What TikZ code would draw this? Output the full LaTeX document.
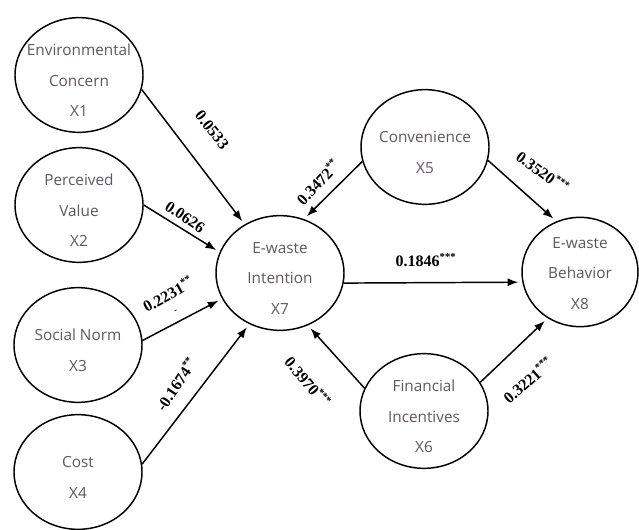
\documentclass[tikz,border=0pt]{standalone}
\usepackage{fontspec}
\setmainfont{Liberation Serif}
\newfontfamily\kreisfont{Open Sans}
\usepackage{tikz}
\definecolor{textgrau}{HTML}{5E5664}
\usetikzlibrary{arrows.meta}
\usetikzlibrary{shapes.geometric}

\begin{document}
\begin{tikzpicture}
    [
    x=0.75pt, y=-0.75pt, >={Latex[length=8pt,width=6pt]},
    %Stil der Konstrukte
    konstrukt/.style={ellipse, draw, line width=1.1pt, minimum width=96pt, minimum height=86pt, inner sep=0pt},
    kreistext/.style={align=center, text=textgrau, inner sep=0pt, yshift=-4pt,
        font=\kreisfont\fontsize{11.5}{23}\selectfont},
    %Pfeile und Koeffizienten
    pfad/.style={->, line width=1.1pt, shorten >=3pt},
    koeff/.style={font=\bfseries\fontsize{12}{14}\selectfont, inner sep=0pt}
    ]
    
    %Rahmen
    \useasboundingbox (0,0) rectangle (639,530);
    
    %Konstrukte links
    \node[konstrukt, label={[kreistext]center:{Environmental\\Concern\\X1}}] (x1) at (79,75) {};
    \node[konstrukt, label={[kreistext]center:{Perceived\\Value\\X2}}] (x2) at (79,205) {};
    \node[konstrukt, label={[kreistext]center:{Social Norm\\X3}}] (x3) at (78,345) {};
    \node[konstrukt, label={[kreistext]center:{Cost\\X4}}] (x4) at (78,472) {};
    
    %Konstrukte Mitte und rechts
    \node[konstrukt, label={[kreistext]center:{E-waste\\Intention\\X7}}] (x7) at (280,273) {};
    \node[konstrukt, label={[kreistext]center:{Convenience\\X5}}] (x5) at (425,147) {};
    \node[konstrukt, label={[kreistext]center:{Financial\\Incentives\\X6}}] (x6) at (424,411) {};
    \node[konstrukt, minimum width=87pt, minimum height=82pt,
        label={[kreistext, yshift=3pt]center:{E-waste\\Behavior\\X8}}] (x8) at (580,272) {};
    
    %Pfade
    \draw[pfad] (x1.-13) -- (x7.126);
    \draw[pfad] (x2.0) -- (x7.161);
    \draw[pfad] (x3.4) -- (x7.204);
    \draw[pfad] (x4.7) -- (x7.239);
    \draw[pfad] (x5.193) -- (x7.66);
    \draw[pfad] (x6.159) -- (x7.-62);
    \draw[pfad] (x5.-12) -- (x8.115);
    \draw[pfad] (x6.27) -- (x8.235);
    \draw[pfad] (x7.-9) -- (x8.190);
    
    %Koeffizienten
    \node[koeff, rotate=-52] (k17) at (212,130) {0.0533};
    \node[koeff, rotate=-34] (k27) at (185,217) {0.0626};
    \node[koeff, rotate=29] (k37) at (168,294) {0.2231\textsuperscript{**}};
    \node[koeff, rotate=29, font=\bfseries\fontsize{7}{8}\selectfont] (k37b) at (176,312) {-};
    \node[koeff, rotate=56] (k47) at (176,384) {-0.1674\textsuperscript{**}};
    \node[koeff, rotate=47] (k57) at (318,182) {0.3472\textsuperscript{**}};
    \node[koeff, rotate=-50] (k67) at (308,382) {0.3970\textsuperscript{***}};
    \node[koeff, rotate=-36] (k58) at (543,172) {0.3520\textsuperscript{***}};
    \node[koeff, rotate=41] (k68) at (528,380) {0.3221\textsuperscript{***}};
    \node[koeff] (k78) at (426,260) {0.1846\textsuperscript{***}};
\end{tikzpicture}
\end{document}
